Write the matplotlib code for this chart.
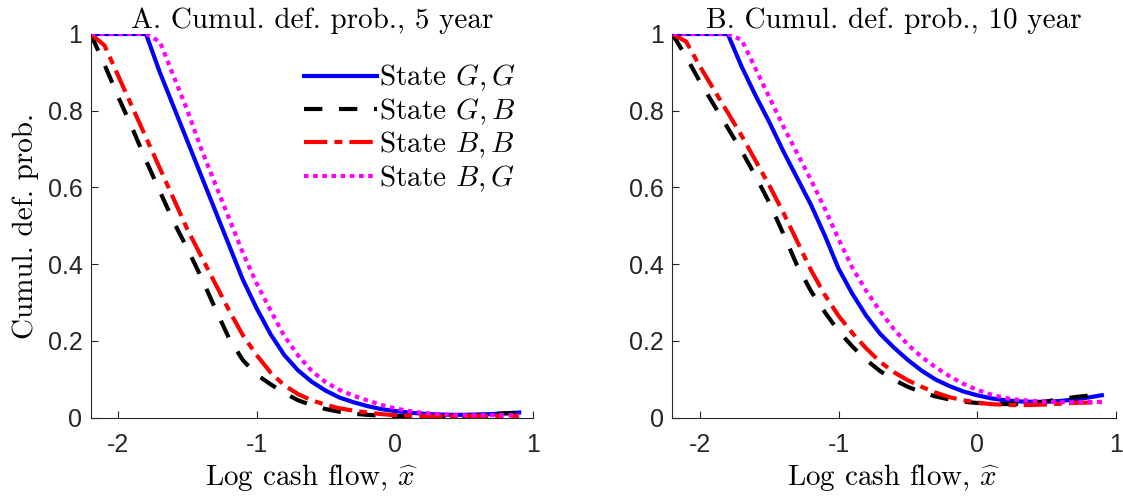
import numpy as np
import matplotlib
matplotlib.use('Agg')
from matplotlib import pyplot as plt

plt.rcParams['mathtext.fontset'] = 'cm'
plt.rcParams['axes.unicode_minus'] = False
plt.rcParams['font.family'] = 'Liberation Sans'

# log cash flow grid
x = [-2.2, -2.1, -2.0, -1.9, -1.8, -1.7, -1.6, -1.5, -1.4, -1.3, -1.2, -1.1,
     -1.0, -0.9, -0.8, -0.7, -0.6, -0.5, -0.4, -0.3, -0.2, -0.1,
     0.0, 0.1, 0.2, 0.3, 0.4, 0.5, 0.6, 0.7, 0.8, 0.9]

# panel A, 5 year
gg5 = [1, 1, 1, 1, 1, 0.90, 0.81, 0.72, 0.63, 0.54, 0.45, 0.36,
       0.285, 0.218, 0.163, 0.123, 0.093, 0.07, 0.052, 0.04, 0.03, 0.022,
       0.017, 0.013, 0.010, 0.008, 0.007, 0.007, 0.008, 0.009, 0.011, 0.013]
gb5 = [1, 0.92, 0.835, 0.755, 0.67, 0.59, 0.51, 0.44, 0.365, 0.285, 0.207, 0.15,
       0.112, 0.087, 0.064, 0.045, 0.032, 0.022, 0.015, 0.010, 0.007, 0.005,
       0.004, 0.003, 0.003, 0.003, 0.003, 0.004, 0.006, 0.009, 0.011, 0.011]
bb5 = [1, 0.97, 0.89, 0.81, 0.73, 0.65, 0.57, 0.49, 0.42, 0.35, 0.28, 0.215,
       0.163, 0.118, 0.084, 0.061, 0.045, 0.033, 0.024, 0.018, 0.013, 0.009,
       0.006, 0.005, 0.004, 0.004, 0.004, 0.004, 0.004, 0.004, 0.004, 0.004]
bg5 = [1, 1, 1, 1, 1, 0.98, 0.89, 0.80, 0.70, 0.61, 0.52, 0.43,
       0.35, 0.28, 0.213, 0.162, 0.121, 0.092, 0.072, 0.057, 0.045, 0.033,
       0.024, 0.017, 0.012, 0.009, 0.007, 0.006, 0.006, 0.006, 0.006, 0.006]

# panel B, 10 year
gg10 = [1, 1, 1, 1, 1, 0.915, 0.84, 0.77, 0.695, 0.625, 0.555, 0.475,
        0.388, 0.322, 0.265, 0.218, 0.182, 0.15, 0.122, 0.099, 0.082, 0.068,
        0.058, 0.05, 0.045, 0.042, 0.041, 0.041, 0.043, 0.047, 0.052, 0.058]
gb10 = [1, 0.94, 0.875, 0.815, 0.755, 0.695, 0.63, 0.56, 0.48, 0.397, 0.33, 0.275,
        0.225, 0.185, 0.15, 0.121, 0.098, 0.08, 0.066, 0.055, 0.047, 0.041,
        0.038, 0.036, 0.035, 0.036, 0.038, 0.042, 0.048, 0.053, 0.057, 0.06]
bb10 = [1, 0.98, 0.915, 0.855, 0.795, 0.735, 0.67, 0.605, 0.535, 0.46, 0.385, 0.32,
        0.265, 0.22, 0.18, 0.145, 0.118, 0.097, 0.08, 0.065, 0.053, 0.045,
        0.039, 0.035, 0.033, 0.032, 0.033, 0.034, 0.036, 0.038, 0.039, 0.04]
bg10 = [1, 1, 1, 1, 1, 0.985, 0.91, 0.835, 0.76, 0.69, 0.62, 0.545,
        0.465, 0.39, 0.33, 0.277, 0.23, 0.19, 0.158, 0.131, 0.108, 0.088,
        0.072, 0.06, 0.051, 0.046, 0.043, 0.041, 0.04, 0.04, 0.04, 0.041]

titles = ['A. Cumul. def. prob., 5 year', 'B. Cumul. def. prob., 10 year']
labels = ['State $G,G$', 'State $G,B$', 'State $B,B$', 'State $B,G$']
xticks = [-2, -1, 0, 1]
yticks = [0, 0.2, 0.4, 0.6, 0.8, 1]
ytick_labels = ['0', '0.2', '0.4', '0.6', '0.8', '1']

grey = '#262626'
serif = 'cmr10'
fs = 21

fig = plt.figure(figsize=(11.23, 4.99), dpi=100)
ax1 = fig.add_axes([0.0808, 0.1633, 0.3938, 0.7686])
ax2 = fig.add_axes([0.5987, 0.1633, 0.3948, 0.7686])

panels = [(ax1, [gg5, gb5, bb5, bg5]), (ax2, [gg10, gb10, bb10, bg10])]
for i, (ax, series) in enumerate(panels):
    lw = 3.0
    ax.plot(x, series[0], color='#0000ff', lw=lw, ls='-', label=labels[0])
    ax.plot(x, series[1], color='black', lw=lw, ls=(0, (4.4, 4.0)), label=labels[1])
    ax.plot(x, series[2], color='#ff0000', lw=lw, ls=(0, (5.6, 1.7, 1.9, 1.7)), label=labels[2])
    ax.plot(x, series[3], color='#ff00ff', lw=lw, ls=(0, (1.1, 1.1)), label=labels[3])

    ax.set_xlim(-2.2, 1)
    ax.set_ylim(0, 1)
    ax.set_xticks(xticks)
    ax.set_xticklabels([str(t) for t in xticks])
    ax.set_yticks(yticks)
    ax.set_yticklabels(ytick_labels)
    ax.tick_params(direction='in', length=5, width=0.8, color=grey,
                   labelcolor=grey, labelsize=18)
    ax.tick_params(axis='x', pad=11)
    ax.tick_params(axis='y', pad=6)
    for s in ['top', 'right']:
        ax.spines[s].set_visible(False)
    for s in ['left', 'bottom']:
        ax.spines[s].set_color(grey)
        ax.spines[s].set_linewidth(0.8)

    ax.set_title(titles[i], fontfamily=serif, fontsize=fs, pad=4)
    ax.set_xlabel('Log cash flow, $\\widehat{x}$', fontfamily=serif,
                  fontsize=fs, labelpad=4)

ax1.set_ylabel('Cumul. def. prob.', fontfamily=serif, fontsize=fs, labelpad=6)

leg = ax1.legend(loc='upper right', bbox_to_anchor=(1.0, 0.97), frameon=False,
                 handlelength=2.5, handletextpad=0.08, labelspacing=0.1,
                 borderaxespad=0.2, prop={'family': serif, 'size': fs})

fig.savefig('out.png', dpi=100)
